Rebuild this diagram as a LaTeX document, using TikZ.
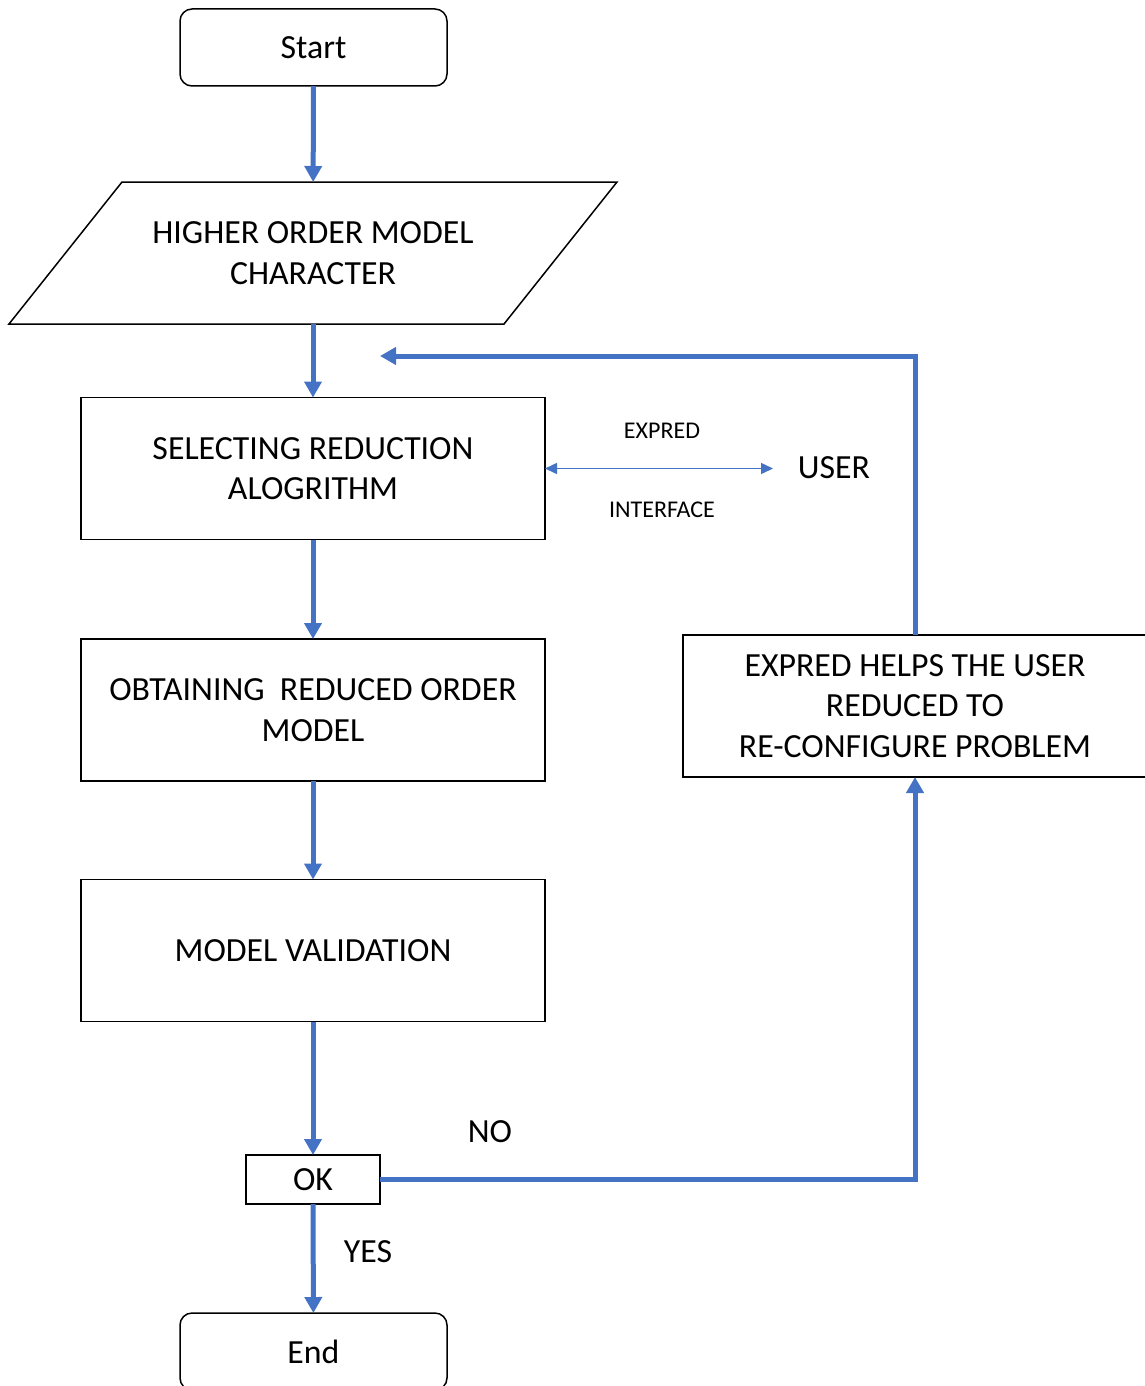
\documentclass[tikz,border=0pt]{standalone}
\usepackage{fontspec}
\setmainfont{Carlito}
\usetikzlibrary{arrows.meta}
\definecolor{flowblue}{HTML}{4472C4}
\begin{document}
\begin{tikzpicture}[x=1pt,y=-1pt,
  every node/.style={inner sep=0pt, outer sep=0pt, font=\fontsize{33.8}{40.5}\selectfont, align=center},
  terminal/.style={draw, line width=1.5pt, rounded corners=12pt, minimum width=267pt, minimum height=77pt},
  procbox/.style={draw, line width=1.5pt, minimum width=464pt, minimum height=142pt},
  smalllabel/.style={font=\fontsize{24}{28}\selectfont},
  flow/.style={draw=flowblue, line width=5pt, -{Triangle[width=17pt,length=16pt]}},
  link/.style={draw=flowblue, line width=1.5pt, {Triangle[width=11pt,length=12pt]}-{Triangle[width=11pt,length=12pt]}}
]
\useasboundingbox (0,0) rectangle (1144,1386);

% terminals
\node[terminal] (start) at (313.5,47.5) {Start};
\node[terminal] (end) at (313.5,1351.5) {End};

% input parallelogram: text node plus slanted outline
\node[minimum width=495pt, minimum height=142pt] (para) at (313,253) {HIGHER ORDER MODEL\\CHARACTER};
\draw[line width=1.5pt] ([xshift=56.5pt]para.north west) -- ([xshift=56.5pt]para.north east)
  -- ([xshift=-56.5pt]para.south east) -- ([xshift=-56.5pt]para.south west) -- cycle;

% process boxes
\node[procbox] (sel) at (313,468.5) {SELECTING REDUCTION\\ALOGRITHM};
\node[procbox] (obt) at (313,710) {OBTAINING\ \ REDUCED ORDER\\MODEL};
\node[procbox] (val) at (313,950.5) {MODEL VALIDATION};
\node[draw, line width=1.5pt, minimum width=134pt, minimum height=49pt] (ok) at (313,1179.5) {OK};
\node[procbox] (help) at (915,706) {EXPRED HELPS THE USER\\REDUCED TO\\RE-CONFIGURE PROBLEM};

% user interface
\node (user) at (834,468) {USER};
\node[smalllabel] (lblexp) at (662,431) {EXPRED};
\node[smalllabel] (lblint) at (662,510) {INTERFACE};
\coordinate (uend) at (773,468.5);
\draw[link] (sel.east) -- (uend);

% decision labels
\node (lblno) at (490,1132) {NO};
\node (lblyes) at (368,1252) {YES};

% main flow
\draw[flow] (start) -- (para);
\draw[flow] (para) -- (sel);
\draw[flow] (sel) -- (obt);
\draw[flow] (obt) -- (val);
\draw[flow] (val) -- (ok);
\draw[flow] (ok) -- (end);

% feedback loop
\coordinate (fb) at (380,356);
\draw[flow] (ok.east) -| (help.south);
\draw[flow] (help.north) |- (fb);
\end{tikzpicture}
\end{document}
